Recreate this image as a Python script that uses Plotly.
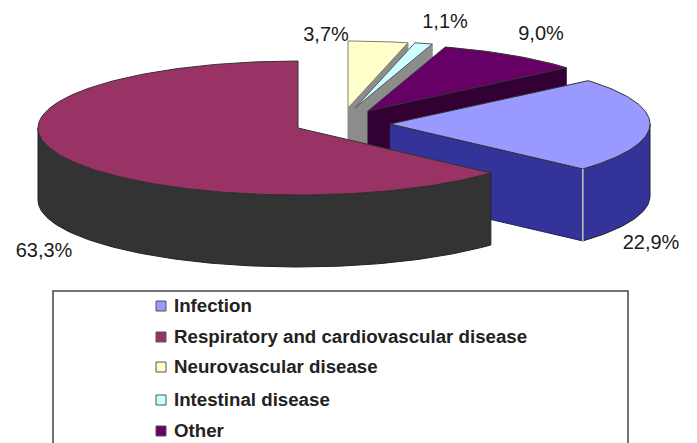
import math
import plotly.graph_objects as go

# ---- data ----
categories = ["Infection", "Respiratory and cardiovascular disease",
              "Neurovascular disease", "Intestinal disease", "Other"]
values = [22.9, 63.3, 3.7, 1.1, 9.0]
value_labels = ["22,9%", "63,3%", "3,7%", "1,1%", "9,0%"]

# ---- styling / layout ----
W, H = 697, 443
top_colors = ["#9999FF", "#993366", "#FFFFCC", "#CCFFFF", "#660066"]
side_colors = ["#333399", "#333333", "#8C8C8C", "#8C8C8C", "#330033"]
edge_colors = ["#333333", "#333333", "#808070", "#555555", "#333333"]
apex = [(390, 124), (298, 128), (348, 108), (355, 108), (368, 111)]
label_pos = [(651, 244), (44, 252), (326, 36), (445, 23), (541, 35)]
legend_y = [306, 337, 367, 400, 431]
draw_order = [2, 3, 4, 0, 1]
RX, RY, DEPTH = 260, 67, 72


def rim(cx, cy, a0, a1, dy=0):
    n = max(2, int(abs(a1 - a0)) + 1)
    pts = []
    for i in range(n + 1):
        t = math.radians(a0 + (a1 - a0) * i / n)
        pts.append((cx + RX * math.sin(t), cy - RY * math.cos(t) + dy))
    return pts


def add_poly(fig, pts, fill, line, width=1, name=None):
    fig.add_trace(go.Scatter(
        x=[p[0] for p in pts] + [pts[0][0]],
        y=[p[1] for p in pts] + [pts[0][1]],
        mode="lines", fill="toself", fillcolor=fill,
        line=dict(color=line, width=width),
        hoverinfo="skip", showlegend=False, name=name))


total = sum(values)
start = 360 - (values[0] + values[1]) / total * 360
angles = []
a = start
for v in values:
    angles.append((a, a + v / total * 360))
    a += v / total * 360
# wrap slices after the first two into 0..360
angles = [angles[0], angles[1]] + [(x - 360, y - 360) for x, y in angles[2:]]

fig = go.Figure()
for i in draw_order:
    cx, cy = apex[i]
    a0, a1 = angles[i]
    # radial face at the clockwise end of the slice
    if i != 1:
        end = rim(cx, cy, a1, a1)[0]
        add_poly(fig, [(cx, cy), end, (end[0], end[1] + DEPTH), (cx, cy + DEPTH)],
                 side_colors[i], side_colors[i] if i > 1 else "#222266")
    # outer wall, front half only
    f0, f1 = max(a0, 90), min(a1, 270)
    if f1 > f0:
        upper = rim(cx, cy, f0, f1)
        lower = rim(cx, cy, f0, f1, DEPTH)
        add_poly(fig, upper + lower[::-1], side_colors[i], "#222222")
    # top surface
    add_poly(fig, [(cx, cy)] + rim(cx, cy, a0, a1), top_colors[i], edge_colors[i],
             name=categories[i])

# light seam on the corner of the infection slice
tip = rim(*apex[0], angles[0][1], angles[0][1])[0]
fig.add_trace(go.Scatter(x=[tip[0], tip[0]], y=[tip[1], tip[1] + DEPTH], mode="lines",
                         line=dict(color="#C8C8C8", width=1.5),
                         hoverinfo="skip", showlegend=False))

# percentage labels
fig.add_trace(go.Scatter(
    x=[p[0] for p in label_pos], y=[p[1] for p in label_pos],
    mode="text", text=value_labels, textposition="middle center",
    textfont=dict(family="Liberation Sans, Arial, sans-serif", size=20, color="#1a1a1a"),
    hoverinfo="skip", showlegend=False))

# key
fig.add_trace(go.Scatter(
    x=[161] * len(categories), y=legend_y, mode="markers",
    marker=dict(symbol="square", size=10, color=top_colors,
                line=dict(color="#555555", width=1)),
    hoverinfo="skip", showlegend=False))
fig.add_trace(go.Scatter(
    x=[174] * len(categories), y=[y + 1 for y in legend_y], mode="text",
    text=categories, textposition="middle right",
    textfont=dict(family="Liberation Sans, Arial, sans-serif", size=18.7, color="#222222",
                  weight=700),
    hoverinfo="skip", showlegend=False))

fig.update_layout(
    width=W, height=H, autosize=False,
    margin=dict(l=0, r=0, t=0, b=0),
    paper_bgcolor="white", plot_bgcolor="white",
    showlegend=False,
    xaxis=dict(range=[0, W], visible=False, fixedrange=True),
    yaxis=dict(range=[H, 0], visible=False, fixedrange=True),
    shapes=[dict(type="rect", xref="x", yref="y", x0=53, x1=628, y0=291, y1=470,
                 line=dict(color="#444444", width=1.5), layer="below")],
)
fig.write_html("out.html", post_script="document.body.style.margin='0';",
               config={"displayModeBar": False})
